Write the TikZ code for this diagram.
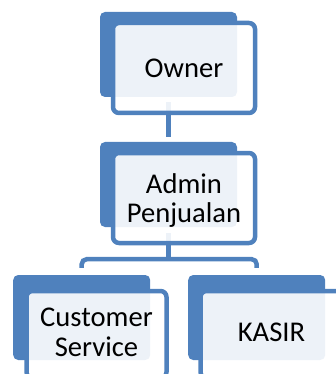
\documentclass[tikz,border=0pt]{standalone}
\usepackage{fontspec}
\setmainfont{Carlito}
\usetikzlibrary{calc}
\definecolor{accent}{HTML}{4F81BD}
\tikzset{
  backbox/.style={fill=accent, draw=none, rounded corners=5pt, minimum width=137pt, minimum height=85pt, inner sep=0pt},
  frontbox/.style={draw=accent, line width=4.5pt, fill=white, fill opacity=0.9, text opacity=1, rounded corners=6pt,
    minimum height=90pt, inner sep=0pt, align=center, text depth=0pt,
    font=\fontsize{28.6pt}{29.5pt}\selectfont},
  conn/.style={draw=accent, line width=4.5pt}
}
\begin{document}
\begin{tikzpicture}[x=1pt,y=-1pt]
\useasboundingbox (0,0) rectangle (336,374);
\clip (0,0) rectangle (336,374);
% back rectangles
\node[backbox] (ownerB) at (168.5,54.5) {};
\node[backbox] (adminB) at (168.5,184.5) {};
\node[backbox] (custB) at (81.7,317.5) {};
\node[backbox] (kasirB) at (256.7,317.5) {};
% connectors
\coordinate (bus) at ($(adminB.south)+(0,32)$);
\draw[conn] ([yshift=-5pt]ownerB.south) -- ([yshift=5pt]adminB.north);
\draw[conn] ([yshift=-6pt]adminB.south) -- (bus);
\draw[conn, rounded corners=5pt] ([yshift=7pt]custB.north) |- (bus) -| ([yshift=7pt]kasirB.north);
% front rectangles
\node[frontbox, minimum width=142pt] (owner) at (184,68) {Owner};
\node[frontbox, minimum width=142pt] (admin) at (184,198) {Admin\\Penjualan};
\node[frontbox, minimum width=140pt, minimum height=87pt, text depth=5pt] (cust) at (96.5,334.5) {Customer\\Service};
\node[frontbox, minimum width=142pt, minimum height=87pt, text depth=5pt] (kasir) at (271.5,334.5) {KASIR};
\end{tikzpicture}
\end{document}
